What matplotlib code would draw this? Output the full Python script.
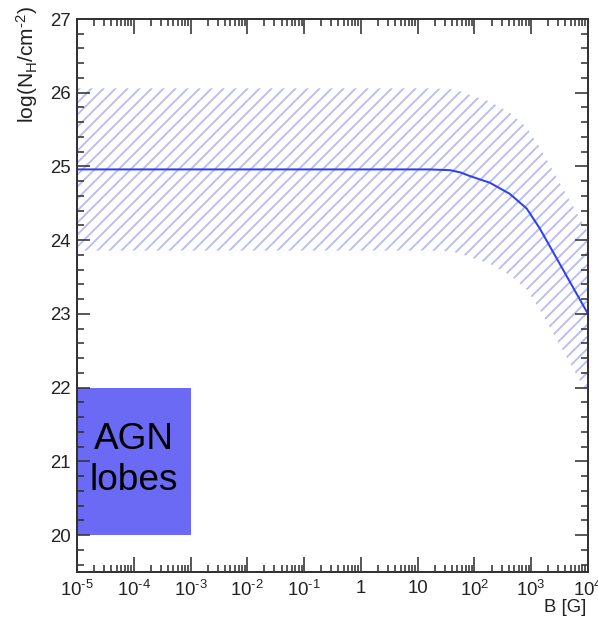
import matplotlib
matplotlib.use("Agg")
import matplotlib.pyplot as plt
import matplotlib.ticker as mticker
from matplotlib.patches import Rectangle
import numpy as np

plt.rcParams['font.family'] = ['Liberation Sans', 'DejaVu Sans']
plt.rcParams['mathtext.fontset'] = 'custom'
plt.rcParams['mathtext.rm'] = 'Liberation Sans'
plt.rcParams['mathtext.it'] = 'Liberation Sans'
plt.rcParams['hatch.linewidth'] = 0.9

# central N_H curve (log10 B, log10 N_H)
log_b = [-5, 1.2, 1.57, 1.75, 1.92, 2.27, 2.62, 2.92, 3.15, 4.0]
log_nh = [24.96, 24.96, 24.95, 24.92, 24.87, 24.78, 24.63, 24.43, 24.16, 23.0]
band_halfwidth = 1.1

# AGN lobes box
agn_b = [1e-5, 1e-3]
agn_nh = [20.0, 22.0]
agn_label = "AGN\nlobes"

x_ticks = [1e-5, 1e-4, 1e-3, 1e-2, 1e-1, 1, 10, 1e2, 1e3, 1e4]
x_ticklabels = [r'$10^{\text{-}5}$', r'$10^{\text{-}4}$', r'$10^{\text{-}3}$',
                r'$10^{\text{-}2}$', r'$10^{\text{-}1}$', '1', '10',
                r'$10^{2}$', r'$10^{3}$', r'$10^{4}$']
y_ticks = [20, 21, 22, 23, 24, 25, 26, 27]

dpi = 144
fig = plt.figure(figsize=(598 / dpi, 622 / dpi), dpi=dpi)
ax = fig.add_axes([77 / 598, 50 / 622, 511 / 598, 553 / 622])

b = 10.0 ** np.array(log_b)
nh = np.array(log_nh)
ax.fill_between(b, nh - band_halfwidth, nh + band_halfwidth, facecolor='none',
                edgecolor='#b6bcf3', hatch='////', linewidth=0)
ax.plot(b, nh, color='#2f3ff2', lw=1.0)

ax.add_patch(Rectangle((agn_b[0], agn_nh[0]), agn_b[1] - agn_b[0], agn_nh[1] - agn_nh[0],
                       facecolor='#6a6af4', edgecolor='none', zorder=1))
ax.text(np.sqrt(agn_b[0] * agn_b[1]), np.mean(agn_nh) + 0.02, agn_label, ha='center',
        va='center', fontsize=18.5, color='black', linespacing=1.25)

ax.set_xscale('log')
ax.set_xlim(1e-5, 1e4)
ax.set_ylim(19.5, 27)
ax.set_xticks(x_ticks)
ax.set_xticklabels(x_ticklabels)
ax.xaxis.set_minor_locator(mticker.LogLocator(base=10, subs=np.arange(2, 10), numticks=20))
ax.xaxis.set_minor_formatter(mticker.NullFormatter())
ax.set_yticks(y_ticks)
ax.yaxis.set_minor_locator(mticker.MultipleLocator(0.2))

for s in ax.spines.values():
    s.set_linewidth(1.0)
    s.set_color('#333333')
ax.tick_params(which='both', direction='in', top=True, right=True, colors='#333333',
               labelcolor='#222222', labelsize=9.3, width=0.8)
ax.tick_params(axis='x', which='major', length=7.5, pad=4)
ax.tick_params(axis='x', which='minor', length=3.5)
ax.tick_params(axis='y', which='major', length=6.5, pad=3)
ax.tick_params(axis='y', which='minor', length=3.5)

fig.text(27 / 598, 1 - 6 / 622, r'log(N$_{\mathrm{H}}$/cm$^{\text{-}2}$)', rotation=90,
         ha='center', va='top', fontsize=10.5, color='#222222')
fig.text(586 / 598, 1 - 607 / 622, 'B [G]', ha='right', va='center',
         fontsize=9.3, color='#222222')

fig.savefig('out.png', dpi=dpi)
